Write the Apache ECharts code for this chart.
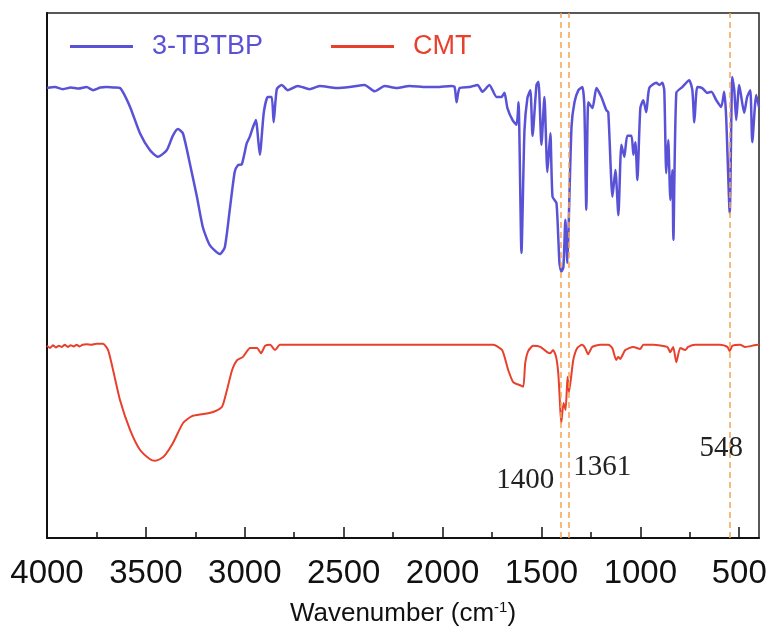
<!DOCTYPE html>
<html>
<head>
<meta charset="utf-8">
<script src="https://cdn.jsdelivr.net/npm/echarts@6/dist/echarts.min.js"></script>
<style>html,body{margin:0;padding:0;background:#fff}#c{width:774px;height:635px}</style>
</head>
<body>
<div id="c"></div>
<script>
// Wavenumber (cm-1), transmittance (arb. units)
const tbtbp = [[4000,85.7],[3960,85.9],[3920,85.5],[3880,85.8],[3840,85.6],[3800,85.9],[3767,85.3],[3730,85.8],[3700,85.9],[3660,85.8],[3631,85.7],[3581,82.2],[3530,77.1],[3480,73.9],[3439,72.6],[3394,73.9],[3364,76.6],[3338,77.9],[3313,77.1],[3278,71.4],[3242,65.0],[3212,59.2],[3177,55.8],[3126,54.1],[3101,55.4],[3076,62.5],[3051,69.7],[3035,71.0],[3015,71.2],[2990,75.2],[2975,76.4],[2960,78.1],[2944,79.6],[2924,73.0],[2904,81.0],[2884,84.0],[2864,84.0],[2854,79.2],[2838,85.5],[2813,86.3],[2783,85.3],[2732,86.1],[2672,85.5],[2621,86.1],[2535,85.7],[2470,85.9],[2394,86.3],[2343,85.1],[2293,86.1],[2232,85.7],[2167,86.1],[2081,85.9],[2030,85.9],[1955,86.1],[1939,85.9],[1929,83.0],[1914,85.7],[1864,85.9],[1823,86.3],[1798,85.0],[1763,86.3],[1727,84.0],[1702,84.0],[1687,84.8],[1672,81.9],[1646,79.6],[1626,78.7],[1616,83.0],[1601,54.3],[1586,77.5],[1571,83.8],[1556,85.3],[1545,76.6],[1525,86.3],[1515,86.9],[1500,74.9],[1485,84.0],[1470,69.7],[1455,77.1],[1444,65.0],[1424,63.8],[1409,52.4],[1399,50.7],[1389,51.6],[1379,60.6],[1369,52.4],[1364,57.3],[1348,78.3],[1333,83.0],[1313,85.3],[1293,85.9],[1283,82.1],[1273,62.5],[1263,83.0],[1242,81.9],[1222,85.7],[1197,84.0],[1172,81.5],[1162,81.1],[1141,65.0],[1126,70.1],[1111,61.5],[1096,74.9],[1081,72.6],[1066,76.6],[1045,76.6],[1035,73.0],[1025,75.4],[1015,68.2],[1000,81.9],[985,83.4],[970,81.1],[955,85.7],[919,86.7],[904,86.3],[889,86.7],[879,85.3],[869,69.5],[859,75.8],[848,64.4],[838,70.1],[833,56.8],[818,84.8],[788,85.9],[753,87.2],[737,85.3],[727,79.2],[712,85.9],[687,85.7],[662,84.8],[641,85.0],[616,83.4],[591,82.1],[576,85.0],[566,80.2],[548,61.9],[535,87.8],[525,85.3],[515,79.6],[500,86.3],[475,81.0],[460,84.0],[444,85.3],[434,75.4],[414,84.4],[400,82.1]];

const cmt = [[4000,36.6],[3985,36.2],[3970,36.7],[3955,36.3],[3940,36.6],[3925,36.4],[3910,36.8],[3895,36.4],[3880,36.7],[3865,36.5],[3850,36.8],[3835,36.5],[3820,36.8],[3800,36.9],[3775,36.8],[3750,37.0],[3717,37.0],[3691,35.8],[3666,32.0],[3631,26.3],[3580,20.6],[3530,16.8],[3479,15.0],[3454,14.7],[3430,15.0],[3403,15.8],[3363,18.1],[3312,21.9],[3267,23.2],[3211,23.6],[3160,24.0],[3115,25.0],[3090,28.2],[3064,32.0],[3039,33.9],[3009,34.5],[2973,36.2],[2938,36.2],[2918,35.2],[2897,36.6],[2872,36.8],[2847,35.8],[2822,36.8],[2781,36.8],[2500,36.8],[2200,36.8],[1900,36.8],[1810,36.8],[1744,36.8],[1699,35.8],[1668,32.0],[1643,29.7],[1608,29.1],[1592,28.8],[1582,33.3],[1567,35.6],[1542,36.6],[1506,36.4],[1471,35.4],[1456,35.2],[1441,35.8],[1426,34.5],[1415,31.4],[1408,26.9],[1400,21.9],[1388,25.7],[1378,24.4],[1368,30.7],[1361,27.8],[1339,33.9],[1319,36.2],[1294,36.8],[1279,36.2],[1264,35.0],[1243,36.4],[1203,36.8],[1162,36.8],[1142,36.2],[1122,33.9],[1112,34.5],[1102,34.1],[1076,35.8],[1036,36.4],[1001,36.0],[985,36.8],[935,36.8],[864,36.4],[849,35.4],[834,36.4],[818,33.5],[798,36.2],[773,35.8],[758,36.4],[722,36.8],[596,36.8],[560,36.4],[548,35.6],[535,36.6],[495,36.8],[470,36.4],[404,36.8],[400,36.8]];

const majorTicks = [500,1000,1500,2000,2500,3000,3500,4000];
const minorTicks = [750,1250,1750,2250,2750,3250,3750];
const peakLines = [1400, 1361, 548];
const peakLabels = [
  {text: '1400', wn: 1582, v: 11.0},
  {text: '1361', wn: 1193, v: 13.5},
  {text: '548',  wn: 591,  v: 17.1}
];
const seriesNames = ['3-TBTBP', 'CMT'];

const BLUE = '#5a52d6', RED = '#e8402c', ORANGE = '#f2a552';

const chart = echarts.init(document.getElementById('c'), null, {renderer: 'canvas'});
chart.setOption({
  animation: false,
  backgroundColor: '#fff',
  grid: {left: 47, right: 15, top: 13, bottom: 97, show: true, borderColor: '#222', borderWidth: 1.5, containLabel: false},
  legend: {
    data: seriesNames.map((n, i) => ({name: n, textStyle: {color: i === 0 ? BLUE : RED}})),
    left: 65, top: 28, icon: 'rect', itemWidth: 63, itemHeight: 3, itemGap: 68,
    textStyle: {fontFamily: 'Liberation Sans', fontSize: 27, padding: [0, 0, 0, 14]}
  },
  xAxis: [{
    type: 'value', min: 400, max: 4000, inverse: true,
    name: 'Wavenumber (cm{sup|-1})', nameLocation: 'middle', nameGap: 62,
    nameTextStyle: {fontFamily: 'Liberation Sans', fontSize: 26, color: '#111',
      rich: {sup: {fontFamily: 'Liberation Sans', fontSize: 15, color: '#111', verticalAlign: 'top', padding: [0, 0, 12, 0]}}},
    axisLine: {show: true, lineStyle: {color: '#111', width: 2}},
    axisTick: {show: true, inside: true, length: 11, customValues: majorTicks, lineStyle: {color: '#111', width: 1.5}},
    axisLabel: {show: true, customValues: majorTicks, margin: 19, fontFamily: 'Liberation Sans', fontSize: 33, color: '#111',
      formatter: v => String(v)},
    splitLine: {show: false}
  }, {
    type: 'value', min: 400, max: 4000, inverse: true, position: 'bottom',
    axisLine: {show: false},
    axisTick: {show: true, inside: true, length: 6, customValues: minorTicks, lineStyle: {color: '#111', width: 1.5}},
    axisLabel: {show: false},
    splitLine: {show: false}
  }],
  yAxis: {
    type: 'value', min: 0, max: 100,
    axisLine: {show: true, lineStyle: {color: '#111', width: 2}},
    axisTick: {show: false}, axisLabel: {show: false}, splitLine: {show: false}
  },
  series: [{
    name: seriesNames[0], type: 'line', data: tbtbp, showSymbol: false, symbol: 'none',
    smooth: 0.2,
    lineStyle: {color: BLUE, width: 2.5}, itemStyle: {color: BLUE}, z: 3
  }, {
    name: seriesNames[1], type: 'line', data: cmt, showSymbol: false, symbol: 'none',
    smooth: 0.2,
    lineStyle: {color: RED, width: 2}, itemStyle: {color: RED}, z: 3,
    markLine: {
      silent: true, symbol: ['none', 'none'], animation: false,
      lineStyle: {color: ORANGE, type: [6, 4], width: 1.5},
      label: {show: false},
      data: peakLines.map(v => ({xAxis: v}))
    },
    markPoint: {
      silent: true, symbol: 'circle', symbolSize: 0,
      label: {show: true, position: 'inside', fontFamily: 'Liberation Serif', fontSize: 29, color: '#222'},
      data: peakLabels.map(p => ({coord: [p.wn, p.v], value: p.text, label: {formatter: p.text}}))
    }
  }]
});
</script>
</body>
</html>
